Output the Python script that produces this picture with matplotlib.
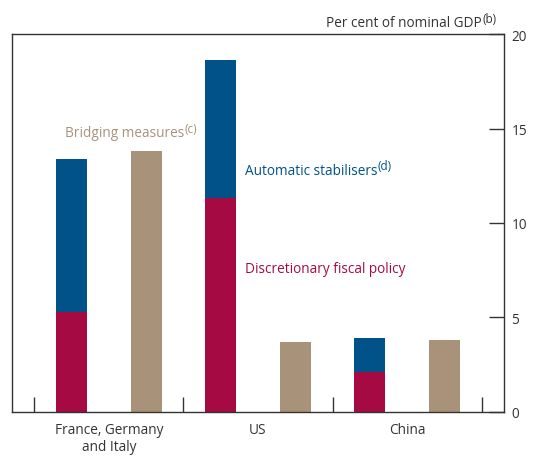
import numpy as np
import matplotlib
matplotlib.use("Agg")
import matplotlib.pyplot as plt
from matplotlib.transforms import offset_copy

plt.rcParams["font.family"] = ["Open Sans", "DejaVu Sans"]

categories = ["France, Germany\nand Italy", "US", "China"]
discretionary = [5.3, 11.3, 2.1]
automatic = [8.1, 7.3, 1.8]
bridging = [13.8, 3.7, 3.8]

RED = "#A50B42"
BLUE = "#005289"
BEIGE = "#A8927A"
AXC = "#333333"
FS = 9.8
SUP = 0.86

fig = plt.figure(figsize=(5.35, 4.6), dpi=100)
ax = fig.add_axes([0.0224, 0.1022, 0.9196, 0.8217])

x = np.arange(len(categories))
w = 0.21
ax.bar(x - 0.25, discretionary, w, color=RED, zorder=2)
ax.bar(x - 0.25, automatic, w, bottom=discretionary, color=BLUE, zorder=2)
ax.bar(x + 0.25, bridging, w, color=BEIGE, zorder=2)

ax.set_xlim(-0.65, 2.65)
ax.set_ylim(0, 20)

for s in ax.spines.values():
    s.set_color(AXC)
    s.set_linewidth(1.0)

# y axis on right, ticks inward
ax.yaxis.tick_right()
ax.set_yticks([0, 5, 10, 15, 20])
ax.tick_params(axis="y", direction="in", length=11, width=1.0, color=AXC,
               labelsize=FS, labelcolor=AXC, pad=5.5)

# x separators as inward ticks, category labels as minor ticks
ax.set_xticks([-0.5, 0.5, 1.5, 2.5])
ax.set_xticklabels([])
ax.set_xticks(x, minor=True)
ax.set_xticklabels(categories, minor=True)
ax.tick_params(axis="x", which="major", direction="in", length=11, width=1.0,
               color=AXC)
ax.tick_params(axis="x", which="minor", length=0, labelsize=FS,
               labelcolor=AXC, pad=7)

renderer = fig.canvas.get_renderer()


def label_with_sup(xp, yp, main, sup, color, transform, ha="left"):
    t = ax.text(xp, yp, main, color=color, fontsize=FS, va="baseline",
                ha=ha, transform=transform)
    xd, yd = transform.transform((xp, yp))
    if ha == "right":
        # shift main text left to leave room for the superscript
        s = ax.text(0, 0, sup, fontsize=FS * SUP, color=color)
        sw = s.get_window_extent(renderer).width
        s.remove()
        t.set_transform(offset_copy(transform, fig=fig, x=-sw - 0.5,
                                    y=0, units="dots"))
    bb = t.get_window_extent(renderer)
    ax.text(bb.x1 + 0.5, yd + 4.5, sup, fontsize=FS * SUP, color=color,
            va="baseline", ha="left", transform=None)


label_with_sup(0.985, 1.02, "Per cent of nominal GDP", "(b)", AXC,
               ax.transAxes, ha="right")
label_with_sup(-0.294, 14.6, "Bridging measures", "(c)", BEIGE, ax.transData)
label_with_sup(0.91, 12.6, "Automatic stabilisers", "(d)", BLUE, ax.transData)
ax.text(0.91, 7.4, "Discretionary fiscal policy", color=RED, fontsize=FS,
        va="baseline", ha="left")

fig.savefig("out.png", dpi=100, facecolor="white")
